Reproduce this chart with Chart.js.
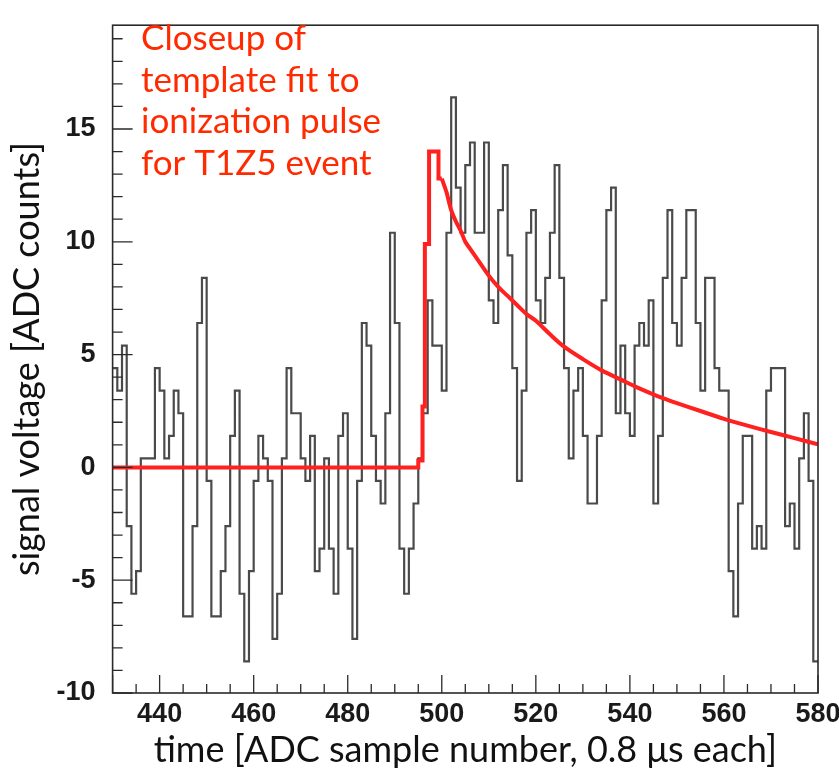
<!DOCTYPE html>
<html>
<head>
<meta charset="utf-8">
<script src="https://cdn.jsdelivr.net/npm/chart.js@4.4.1/dist/chart.umd.min.js"></script>
<style>
  html, body { margin: 0; padding: 0; background: #fff; }
  #wrap { width: 839px; height: 777px; }
</style>
</head>
<body>
<div id="wrap"><canvas id="pulseChart" width="839" height="777"></canvas></div>
<script>
// ADC trace, one value per sample (bin [n, n+1)), first sample 430
const sampleStart = 430;
const adcCounts = [
    4.4, 3.4, 5.4, -2.6, -5.6, -4.6, 0.4, 0.4, 0.4, 4.4,
    3.4, 0.4, 1.4, 3.4, 2.4, -6.6, -6.6, -2.6, 6.4, 8.4,
    -0.6, -6.6, -6.6, -4.6, -2.6, 1.4, 3.4, -5.6, -8.6, -4.6,
    -0.6, 1.4, 0.4, -0.6, -7.6, -5.6, 0.4, 4.4, 2.4, 2.4,
    0.4, -0.6, 1.4, -4.6, -3.6, 0.4, -3.6, -5.6, 1.4, 2.4,
    -3.6, -7.6, -0.6, 6.4, 5.4, 1.4, -0.6, -1.6, 2.4, 10.4,
    6.4, -3.6, -5.6, -3.6, -1.6, 0.4, 2.4, 7.4, 5.4, 5.4,
    3.4, 10.4, 16.4, 12.4, 10.4, 13.4, 14.4, 10.4, 10.4, 14.4,
    7.4, 6.4, 11.4, 13.4, 9.4, 4.4, -0.6, 3.4, 10.4, 11.4,
    7.4, 6.4, 8.4, 10.4, 13.4, 8.4, 4.4, 0.4, 3.4, 4.4,
    1.4, -1.6, -1.6, 1.4, 7.4, 11.4, 12.4, 2.4, 5.4, 2.4,
    1.4, 5.4, 6.4, 5.4, 7.4, -1.6, 1.4, 8.4, 11.4, 6.4,
    5.4, 8.4, 11.4, 11.4, 6.4, 3.4, 8.4, 8.4, 4.4, 3.4,
    3.4, -4.6, -6.6, -1.6, 1.4, 1.4, -3.6, -2.6, -3.6, 3.4,
    4.4, 4.4, 4.4, -2.6, -1.6, -3.6, 0.4, 2.4, -0.6, -8.6,
];

// template fit: stepped rise, then the decay tail
const fitRiseX = [430, 495.0, 495.9, 496.4, 497.3, 499.3, 500.0];
const fitRiseY = [0, 0.3, 2.7, 9.9, 14.0, 12.8, 12.8];
const fitDecayX = [500, 501, 502, 503, 504, 505, 506, 508, 510, 512, 514, 516, 518, 520,
    523, 526, 530, 534, 538, 542, 546, 550, 555, 560, 565, 570, 575, 580];
const fitDecayY = [12.8, 12.2, 11.4, 10.9, 10.5, 10.0, 9.7, 9.1, 8.5, 8.0, 7.6, 7.2, 6.8, 6.5,
    5.9, 5.35, 4.8, 4.3, 3.9, 3.5, 3.15, 2.85, 2.5, 2.15, 1.85, 1.57, 1.3, 1.02];

const xTickLabels = [440, 460, 480, 500, 520, 540, 560, 580];
const yTickLabels = [-10, -5, 0, 5, 10, 15];
const noteLines = ["Closeup of", "template fit to", "ionization pulse", "for T1Z5 event"];

const xMin = 430, xMax = 580, yMin = -10, yMax = 19.6;

const histPoints = adcCounts.map((v, i) => ({ x: sampleStart + i, y: v }));
histPoints.push({ x: sampleStart + adcCounts.length, y: adcCounts[adcCounts.length - 1] });
const risePoints = fitRiseX.map((x, i) => ({ x: x, y: fitRiseY[i] }));
const decayPoints = fitDecayX.map((x, i) => ({ x: x, y: fitDecayY[i] }));

const textColor = "#1a1a1a";
const noteColor = "#ff2a00";
const fitColor = "#ff2020";

// ROOT style frame with ticks pointing inward
const frameTicks = {
    id: "frameTicks",
    afterDatasetsDraw(chart) {
        const { ctx, chartArea: a, scales } = chart;
        const x = scales.x, y = scales.y;
        ctx.save();
        ctx.strokeStyle = "#2a2a2a";
        ctx.lineWidth = 1.6;
        ctx.strokeRect(a.left, a.top, a.right - a.left, a.bottom - a.top);
        ctx.lineWidth = 1.3;
        ctx.beginPath();
        for (let v = yMin; v <= yMax; v += 1) {
            const py = y.getPixelForValue(v);
            const len = yTickLabels.includes(v) ? 20 : 10;
            ctx.moveTo(a.left, py);
            ctx.lineTo(a.left + len, py);
        }
        for (let v = xMin; v <= xMax; v += 5) {
            const px = x.getPixelForValue(v);
            const len = xTickLabels.includes(v) || v === xMin ? 18 : 9;
            ctx.moveTo(px, a.bottom);
            ctx.lineTo(px, a.bottom - len);
        }
        ctx.stroke();
        ctx.restore();
    },
    afterDraw(chart) {
        const { ctx } = chart;
        ctx.save();
        ctx.fillStyle = noteColor;
        ctx.font = "35px Lato";
        ctx.textBaseline = "alphabetic";
        noteLines.forEach((t, i) => ctx.fillText(t, 141, 50 + i * 41.5));
        ctx.restore();
    },
};

new Chart(document.getElementById("pulseChart"), {
    type: "line",
    data: {
        datasets: [
            {
                label: "fit rise",
                data: risePoints,
                stepped: "before",
                borderColor: fitColor,
                borderWidth: 4,
                pointRadius: 0,
                fill: false,
                order: 0,
            },
            {
                label: "fit decay",
                data: decayPoints,
                borderColor: fitColor,
                borderWidth: 4,
                pointRadius: 0,
                tension: 0.3,
                fill: false,
                order: 0,
            },
            {
                label: "ADC trace",
                data: histPoints,
                stepped: "before",
                borderColor: "#4a4a4a",
                borderWidth: 2.2,
                pointRadius: 0,
                fill: false,
                order: 1,
            },
        ],
    },
    options: {
        responsive: false,
        animation: false,
        layout: { padding: { left: 0, right: 21, top: 12, bottom: 0 } },
        plugins: {
            legend: { display: false },
            tooltip: { enabled: false },
        },
        scales: {
            x: {
                type: "linear",
                min: xMin,
                max: xMax,
                afterBuildTicks: (s) => {
                    s.ticks = xTickLabels.map((v) => ({ value: v }));
                },
                afterFit: (s) => {
                    s.height = 84;
                },
                grid: { display: false },
                border: { display: false },
                ticks: {
                    color: textColor,
                    padding: -3,
                    maxRotation: 0,
                    font: { family: "Liberation Sans", size: 27, weight: "bold" },
                },
                title: {
                    display: true,
                    text: "time [ADC sample number, 0.8 μs each]",
                    color: "#111",
                    font: { family: "Lato", size: 36 },
                    padding: { top: 0, bottom: 5 },
                },
            },
            y: {
                type: "linear",
                min: yMin,
                max: yMax,
                afterBuildTicks: (s) => {
                    s.ticks = yTickLabels.map((v) => ({ value: v }));
                },
                afterFit: (s) => {
                    s.width = 112.6;
                },
                grid: { display: false },
                border: { display: false },
                ticks: {
                    color: textColor,
                    padding: 9,
                    font: { family: "Liberation Sans", size: 27, weight: "bold" },
                },
                title: {
                    display: true,
                    text: "signal voltage [ADC counts]",
                    color: "#111",
                    font: { family: "Lato", size: 36 },
                    padding: { top: 6, bottom: 0 },
                },
            },
        },
    },
    plugins: [frameTicks],
});
</script>
</body>
</html>
